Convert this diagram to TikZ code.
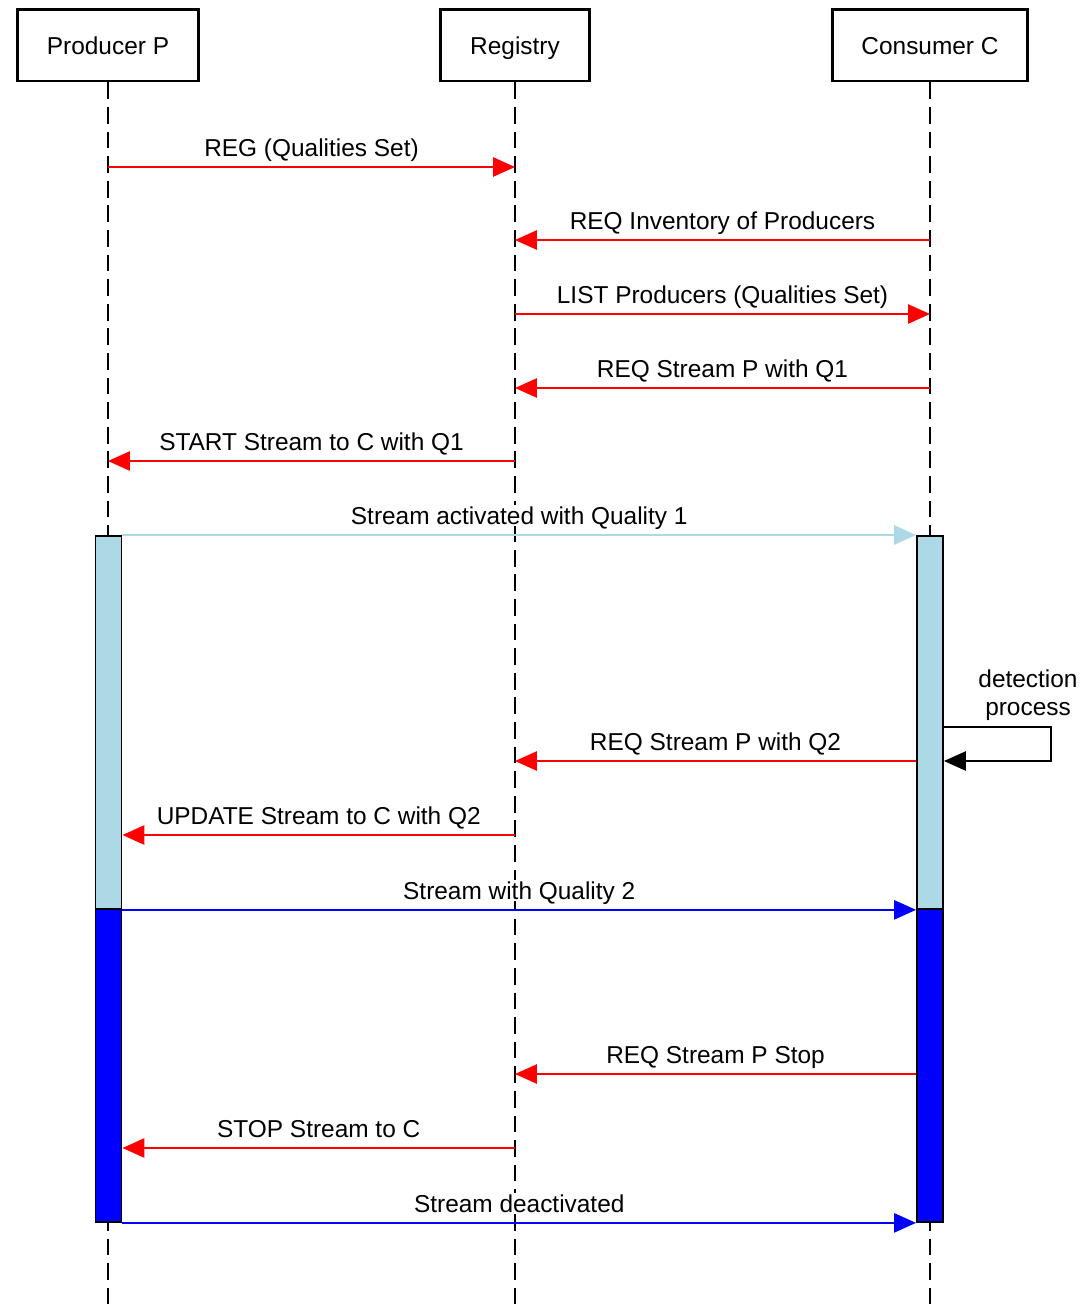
\documentclass[tikz,border=0pt]{standalone}
\usepackage{fontspec}
\setmainfont{Liberation Sans}
\usetikzlibrary{arrows.meta, positioning}

\definecolor{actlight}{RGB}{173,216,230}

\begin{document}
\begin{tikzpicture}[
  x=0.02cm, y=-0.02cm,
  every node/.style={font=\fontsize{13.9}{16}\selectfont},
  actor/.style={draw, line width=1.7pt, minimum height=1.44cm, inner sep=0pt, text height=11.2pt, text depth=0pt},
  life/.style={line width=1pt, dash pattern=on 9.5pt off 4.5pt},
  bar/.style={draw, line width=1.1pt, minimum width=0.52cm, inner sep=0pt, anchor=north},
  msg/.style={line width=0.9pt, -{Triangle[length=12.5pt, width=11pt]}},
  lbl/.style={above, fill=white, text=black, inner sep=1pt, text depth=0pt, yshift=4.5pt}
]
\useasboundingbox (0,0) rectangle (1079,1309);

% participants
\node[actor, minimum width=3.64cm] (P) at (108,45) {Producer P};
\node[actor, minimum width=2.98cm] (R) at (515,45) {Registry};
\node[actor, minimum width=3.92cm] (C) at (930,45) {Consumer C};

\coordinate (bot) at (0,1309);
\draw[life] (P) -- (P |- bot);
\draw[life] (R) -- (R |- bot);
\draw[life] (C) -- (C |- bot);

% activation bars
\node[bar, fill=actlight, minimum height=7.46cm] (Pa) at (108.5,535) {};
\node[bar, fill=blue, minimum height=6.26cm] (Pb) at (108.5,908) {};
\node[bar, fill=actlight, minimum height=7.46cm] (Ca) at (930,535) {};
\node[bar, fill=blue, minimum height=6.26cm] (Cb) at (930,908) {};

% message rows
\coordinate (m1) at (0,167);
\coordinate (m2) at (0,240);
\coordinate (m3) at (0,314);
\coordinate (m4) at (0,388);
\coordinate (m5) at (0,461);
\coordinate (s1) at (0,727);
\coordinate (m7) at (0,761);
\coordinate (m8) at (0,835);
\coordinate (m10) at (0,1074);
\coordinate (m11) at (0,1148);

\draw[msg, red] (P |- m1) -- node[lbl] {REG (Qualities Set)} (R |- m1);
\draw[msg, red] (C |- m2) -- node[lbl] {REQ Inventory of Producers} (R |- m2);
\draw[msg, red] (R |- m3) -- node[lbl] {LIST Producers (Qualities Set)} (C |- m3);
\draw[msg, red] (C |- m4) -- node[lbl] {REQ Stream P with Q1} (R |- m4);
\draw[msg, red] (R |- m5) -- node[lbl] {START Stream to C with Q1} (P |- m5);
\draw[msg, actlight] (Pa.north east) -- node[lbl] {Stream activated with Quality 1} (Ca.north west);

% self call
\draw[line width=0.9pt, -{Triangle[length=12.5pt, width=11pt]}] (Ca.east |- s1) -- ++(107,0) |- (Ca.east |- m7);
\node[align=center, inner sep=0pt] (det) at (1028,695) {detection\\process};

\draw[msg, red] (Ca.west |- m7) -- node[lbl] {REQ Stream P with Q2} (R |- m7);
\draw[msg, red] (R |- m8) -- node[lbl] {UPDATE Stream to C with Q2} (Pa.east |- m8);
\draw[msg, blue] (Pa.south east) -- node[lbl] {Stream with Quality 2} (Ca.south west);
\draw[msg, red] (Cb.west |- m10) -- node[lbl] {REQ Stream P Stop} (R |- m10);
\draw[msg, red] (R |- m11) -- node[lbl] {STOP Stream to C} (Pb.east |- m11);
\draw[msg, blue] (Pb.south east) -- node[lbl] {Stream deactivated} (Cb.south west);
\end{tikzpicture}
\end{document}
